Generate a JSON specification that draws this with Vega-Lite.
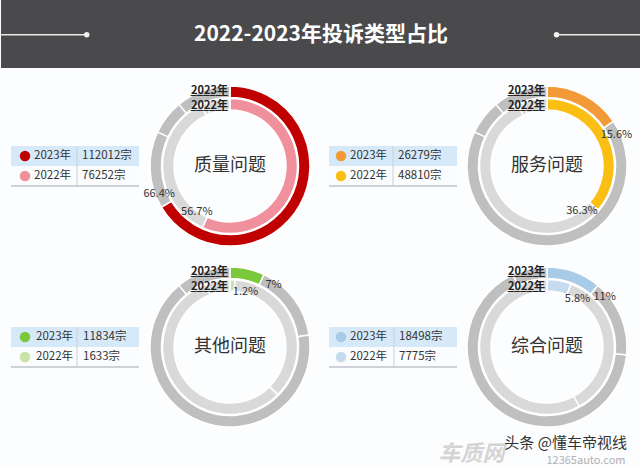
{
  "$schema": "https://vega.github.io/schema/vega-lite/v6.json",
  "padding": 0,
  "background": "#fcfdfe",
  "spacing": 0,
  "config": {
    "view": {"stroke": null},
    "text": {"font": "Noto Sans CJK SC"},
    "concat": {"spacing": 0}
  },
  "datasets": {
    "rings": [
      {"panel": "质量问题", "cat": "质量问题", "rank": 1, "p2023": 66.4, "p2022": 56.7},
      {"panel": "质量问题", "cat": "服务问题", "rank": 2, "p2023": 15.6, "p2022": 36.3},
      {"panel": "质量问题", "cat": "其他问题", "rank": 3, "p2023": 7, "p2022": 1.2},
      {"panel": "质量问题", "cat": "综合问题", "rank": 4, "p2023": 11, "p2022": 5.8},
      {"panel": "服务问题", "cat": "服务问题", "rank": 1, "p2023": 15.6, "p2022": 36.3},
      {"panel": "服务问题", "cat": "质量问题", "rank": 2, "p2023": 66.4, "p2022": 56.7},
      {"panel": "服务问题", "cat": "其他问题", "rank": 3, "p2023": 7, "p2022": 1.2},
      {"panel": "服务问题", "cat": "综合问题", "rank": 4, "p2023": 11, "p2022": 5.8},
      {"panel": "其他问题", "cat": "其他问题", "rank": 1, "p2023": 7, "p2022": 1.2},
      {"panel": "其他问题", "cat": "服务问题", "rank": 2, "p2023": 15.6, "p2022": 36.3},
      {"panel": "其他问题", "cat": "质量问题", "rank": 3, "p2023": 66.4, "p2022": 56.7},
      {"panel": "其他问题", "cat": "综合问题", "rank": 4, "p2023": 11, "p2022": 5.8},
      {"panel": "综合问题", "cat": "综合问题", "rank": 1, "p2023": 11, "p2022": 5.8},
      {"panel": "综合问题", "cat": "服务问题", "rank": 2, "p2023": 15.6, "p2022": 36.3},
      {"panel": "综合问题", "cat": "质量问题", "rank": 3, "p2023": 66.4, "p2022": 56.7},
      {"panel": "综合问题", "cat": "其他问题", "rank": 4, "p2023": 7, "p2022": 1.2}
    ],
    "stats": [
      {"cat": "质量问题", "year": "2023年", "count": 112012, "countText": "112012宗", "pct": 66.4, "pctText": "66.4%"},
      {"cat": "质量问题", "year": "2022年", "count": 76252, "countText": "76252宗", "pct": 56.7, "pctText": "56.7%"},
      {"cat": "服务问题", "year": "2023年", "count": 26279, "countText": "26279宗", "pct": 15.6, "pctText": "15.6%"},
      {"cat": "服务问题", "year": "2022年", "count": 48810, "countText": "48810宗", "pct": 36.3, "pctText": "36.3%"},
      {"cat": "其他问题", "year": "2023年", "count": 11834, "countText": "11834宗", "pct": 7, "pctText": "7%"},
      {"cat": "其他问题", "year": "2022年", "count": 1633, "countText": "1633宗", "pct": 1.2, "pctText": "1.2%"},
      {"cat": "综合问题", "year": "2023年", "count": 18498, "countText": "18498宗", "pct": 11, "pctText": "11%"},
      {"cat": "综合问题", "year": "2022年", "count": 7775, "countText": "7775宗", "pct": 5.8, "pctText": "5.8%"}
    ]
  },
  "vconcat": [
    {
      "width": 640,
      "height": 68,
      "view": {"fill": "#4a4a4c", "stroke": null},
      "data": {"values": [{"title": "2022-2023年投诉类型占比"}]},
      "layer": [
        {"mark": {"type": "rule", "color": "#e8e8e8", "strokeWidth": 1.5},
         "encoding": {"x": {"datum": 0, "type": "quantitative", "scale": {"domain": [0, 1], "nice": false}, "axis": null}, "x2": {"datum": 0.134},
                      "y": {"datum": 0.51, "type": "quantitative", "scale": {"domain": [0, 1], "reverse": true, "nice": false}, "axis": null}}},
        {"mark": {"type": "rule", "color": "#e8e8e8", "strokeWidth": 1.5},
         "encoding": {"x": {"datum": 0.868, "type": "quantitative"}, "x2": {"datum": 1}, "y": {"datum": 0.51, "type": "quantitative"}}},
        {"mark": {"type": "point", "filled": true, "size": 30, "color": "#f0f0f0", "opacity": 1},
         "encoding": {"x": {"datum": 0.134, "type": "quantitative"}, "y": {"datum": 0.51, "type": "quantitative"}}},
        {"mark": {"type": "point", "filled": true, "size": 30, "color": "#f0f0f0", "opacity": 1},
         "encoding": {"x": {"datum": 0.868, "type": "quantitative"}, "y": {"datum": 0.51, "type": "quantitative"}}},
        {"mark": {"type": "text", "fontSize": 21, "fontWeight": "bold", "color": "#ffffff", "baseline": "middle"},
         "encoding": {"x": {"datum": 0.5, "type": "quantitative"}, "y": {"datum": 0.51, "type": "quantitative"}, "text": {"field": "title"}}}
      ]
    },
    {
      "hconcat": [
        {
          "width": 140, "height": 40,
          "data": {"name": "stats"},
          "transform": [{"filter": "datum.cat === '质量问题'"}],
          "encoding": {"y": {"field": "year", "type": "nominal", "sort": ["2023年", "2022年"], "scale": {"paddingInner": 0, "paddingOuter": 0}, "axis": null}},
          "layer": [
            {"mark": {"type": "rect"},
             "encoding": {"x": {"datum": 10, "type": "quantitative", "scale": {"domain": [0, 140], "nice": false, "zero": false}, "axis": null}, "x2": {"datum": 138},
                          "color": {"condition": {"test": "datum.year === '2023年'", "value": "#d6e9f8"}, "value": "#fbfcfd"}}},
            {"transform": [{"filter": "datum.year === '2023年'"}], "mark": {"type": "rule", "color": "#c9cfd5", "strokeWidth": 1},
             "encoding": {"x": {"datum": 76, "type": "quantitative"}, "y": {"value": 0}, "y2": {"value": "height"}}},
            {"transform": [{"filter": "datum.year === '2023年'"}], "mark": {"type": "rule", "color": "#bfc5cb", "strokeWidth": 1.5},
             "encoding": {"x": {"datum": 10, "type": "quantitative"}, "x2": {"datum": 138}, "y": {"value": "height"}}},
            {"mark": {"type": "point", "filled": true, "size": 110, "opacity": 1},
             "encoding": {"x": {"datum": 24, "type": "quantitative"}, "color": {"condition": {"test": "datum.year === '2023年'", "value": "#c00000"}, "value": "#ef909c"}}},
            {"mark": {"type": "text", "align": "left", "fontSize": 11.5, "color": "#333333"},
             "encoding": {"x": {"datum": 33, "type": "quantitative"}, "text": {"field": "year"}}},
            {"mark": {"type": "text", "align": "left", "fontSize": 11.5, "color": "#333333"},
             "encoding": {"x": {"datum": 81, "type": "quantitative"}, "text": {"field": "countText"}}}
          ]
        },
        {
          "width": 178, "height": 196,
          "layer": [
            {"data": {"name": "rings"}, "transform": [{"filter": "datum.panel === '质量问题'"}],
             "mark": {"type": "arc", "innerRadius": 68.5, "outerRadius": 80, "stroke": "#ffffff", "strokeWidth": 1.5},
             "encoding": {"theta": {"field": "p2023", "type": "quantitative", "stack": true, "scale": {"domain": [0, 100]}},
                          "order": {"field": "rank", "type": "quantitative"}, "detail": {"field": "cat"},
                          "color": {"condition": {"test": "datum.cat === datum.panel", "value": "#c00000"}, "value": "#bfbfbf"}}},
            {"data": {"name": "rings"}, "transform": [{"filter": "datum.panel === '质量问题'"}],
             "mark": {"type": "arc", "innerRadius": 56, "outerRadius": 67.5, "stroke": "#ffffff", "strokeWidth": 1.5},
             "encoding": {"theta": {"field": "p2022", "type": "quantitative", "stack": true, "scale": {"domain": [0, 100]}},
                          "order": {"field": "rank", "type": "quantitative"}, "detail": {"field": "cat"},
                          "color": {"condition": {"test": "datum.cat === datum.panel", "value": "#ef909c"}, "value": "#d9d9d9"}}},
            {"data": {"name": "stats"}, "transform": [{"filter": "datum.cat === '质量问题' && datum.year === '2023年'"}],
             "mark": {"type": "text", "fontSize": 18, "color": "#333333"},
             "encoding": {"text": {"field": "cat"}}},
            {"data": {"name": "stats"}, "transform": [{"filter": "datum.cat === '质量问题' && datum.year === '2023年'"}],
             "mark": {"type": "text", "align": "right", "baseline": "middle", "fontSize": 11, "fontWeight": "bold", "color": "#222222", "dx": -2},
             "encoding": {"theta": {"datum": 0, "type": "quantitative"}, "radius": {"value": 75}, "text": {"field": "year"}}},
            {"data": {"name": "stats"}, "transform": [{"filter": "datum.cat === '质量问题' && datum.year === '2023年'"}],
             "mark": {"type": "text", "align": "right", "baseline": "middle", "fontSize": 11, "fontWeight": "bold", "color": "#222222", "dx": -2},
             "encoding": {"theta": {"datum": 0, "type": "quantitative"}, "radius": {"value": 75}, "text": {"value": "______"}}},
            {"data": {"name": "stats"}, "transform": [{"filter": "datum.cat === '质量问题' && datum.year === '2022年'"}],
             "mark": {"type": "text", "align": "right", "baseline": "middle", "fontSize": 11, "fontWeight": "bold", "color": "#222222", "dx": -2},
             "encoding": {"theta": {"datum": 0, "type": "quantitative"}, "radius": {"value": 60}, "text": {"field": "year"}}},
            {"data": {"name": "stats"}, "transform": [{"filter": "datum.cat === '质量问题' && datum.year === '2022年'"}],
             "mark": {"type": "text", "align": "right", "baseline": "middle", "fontSize": 11, "fontWeight": "bold", "color": "#222222", "dx": -2},
             "encoding": {"theta": {"datum": 0, "type": "quantitative"}, "radius": {"value": 60}, "text": {"value": "______"}}},
            {"data": {"name": "stats"}, "transform": [{"filter": "datum.cat === '质量问题' && datum.year === '2023年'"}],
             "mark": {"type": "text", "fontSize": 11, "color": "#333333", "thetaOffset": 0.17},
             "encoding": {"theta": {"field": "pct", "type": "quantitative"}, "radius": {"value": 76}, "text": {"field": "pctText"}}},
            {"data": {"name": "stats"}, "transform": [{"filter": "datum.cat === '质量问题' && datum.year === '2022年'"}],
             "mark": {"type": "text", "fontSize": 11, "color": "#333333", "thetaOffset": 0.2},
             "encoding": {"theta": {"field": "pct", "type": "quantitative"}, "radius": {"value": 57}, "text": {"field": "pctText"}}}
          ]
        },
        {
          "width": 140, "height": 40,
          "data": {"name": "stats"},
          "transform": [{"filter": "datum.cat === '服务问题'"}],
          "encoding": {"y": {"field": "year", "type": "nominal", "sort": ["2023年", "2022年"], "scale": {"paddingInner": 0, "paddingOuter": 0}, "axis": null}},
          "layer": [
            {"mark": {"type": "rect"},
             "encoding": {"x": {"datum": 10, "type": "quantitative", "scale": {"domain": [0, 140], "nice": false, "zero": false}, "axis": null}, "x2": {"datum": 138},
                          "color": {"condition": {"test": "datum.year === '2023年'", "value": "#d6e9f8"}, "value": "#fbfcfd"}}},
            {"transform": [{"filter": "datum.year === '2023年'"}], "mark": {"type": "rule", "color": "#c9cfd5", "strokeWidth": 1},
             "encoding": {"x": {"datum": 74, "type": "quantitative"}, "y": {"value": 0}, "y2": {"value": "height"}}},
            {"transform": [{"filter": "datum.year === '2023年'"}], "mark": {"type": "rule", "color": "#bfc5cb", "strokeWidth": 1.5},
             "encoding": {"x": {"datum": 10, "type": "quantitative"}, "x2": {"datum": 138}, "y": {"value": "height"}}},
            {"mark": {"type": "point", "filled": true, "size": 110, "opacity": 1},
             "encoding": {"x": {"datum": 22, "type": "quantitative"}, "color": {"condition": {"test": "datum.year === '2023年'", "value": "#f39a38"}, "value": "#fbbf14"}}},
            {"mark": {"type": "text", "align": "left", "fontSize": 11.5, "color": "#333333"},
             "encoding": {"x": {"datum": 31, "type": "quantitative"}, "text": {"field": "year"}}},
            {"mark": {"type": "text", "align": "left", "fontSize": 11.5, "color": "#333333"},
             "encoding": {"x": {"datum": 79, "type": "quantitative"}, "text": {"field": "countText"}}}
          ]
        },
        {
          "width": 176, "height": 196,
          "layer": [
            {"data": {"name": "rings"}, "transform": [{"filter": "datum.panel === '服务问题'"}],
             "mark": {"type": "arc", "innerRadius": 68.5, "outerRadius": 80, "stroke": "#ffffff", "strokeWidth": 1.5},
             "encoding": {"theta": {"field": "p2023", "type": "quantitative", "stack": true, "scale": {"domain": [0, 100]}},
                          "order": {"field": "rank", "type": "quantitative"}, "detail": {"field": "cat"},
                          "color": {"condition": {"test": "datum.cat === datum.panel", "value": "#f39a38"}, "value": "#bfbfbf"}}},
            {"data": {"name": "rings"}, "transform": [{"filter": "datum.panel === '服务问题'"}],
             "mark": {"type": "arc", "innerRadius": 56, "outerRadius": 67.5, "stroke": "#ffffff", "strokeWidth": 1.5},
             "encoding": {"theta": {"field": "p2022", "type": "quantitative", "stack": true, "scale": {"domain": [0, 100]}},
                          "order": {"field": "rank", "type": "quantitative"}, "detail": {"field": "cat"},
                          "color": {"condition": {"test": "datum.cat === datum.panel", "value": "#fbbf14"}, "value": "#d9d9d9"}}},
            {"data": {"name": "stats"}, "transform": [{"filter": "datum.cat === '服务问题' && datum.year === '2023年'"}],
             "mark": {"type": "text", "fontSize": 18, "color": "#333333"},
             "encoding": {"text": {"field": "cat"}}},
            {"data": {"name": "stats"}, "transform": [{"filter": "datum.cat === '服务问题' && datum.year === '2023年'"}],
             "mark": {"type": "text", "align": "right", "baseline": "middle", "fontSize": 11, "fontWeight": "bold", "color": "#222222", "dx": -2},
             "encoding": {"theta": {"datum": 0, "type": "quantitative"}, "radius": {"value": 75}, "text": {"field": "year"}}},
            {"data": {"name": "stats"}, "transform": [{"filter": "datum.cat === '服务问题' && datum.year === '2023年'"}],
             "mark": {"type": "text", "align": "right", "baseline": "middle", "fontSize": 11, "fontWeight": "bold", "color": "#222222", "dx": -2},
             "encoding": {"theta": {"datum": 0, "type": "quantitative"}, "radius": {"value": 75}, "text": {"value": "______"}}},
            {"data": {"name": "stats"}, "transform": [{"filter": "datum.cat === '服务问题' && datum.year === '2022年'"}],
             "mark": {"type": "text", "align": "right", "baseline": "middle", "fontSize": 11, "fontWeight": "bold", "color": "#222222", "dx": -2},
             "encoding": {"theta": {"datum": 0, "type": "quantitative"}, "radius": {"value": 60}, "text": {"field": "year"}}},
            {"data": {"name": "stats"}, "transform": [{"filter": "datum.cat === '服务问题' && datum.year === '2022年'"}],
             "mark": {"type": "text", "align": "right", "baseline": "middle", "fontSize": 11, "fontWeight": "bold", "color": "#222222", "dx": -2},
             "encoding": {"theta": {"datum": 0, "type": "quantitative"}, "radius": {"value": 60}, "text": {"value": "______"}}},
            {"data": {"name": "stats"}, "transform": [{"filter": "datum.cat === '服务问题' && datum.year === '2023年'"}],
             "mark": {"type": "text", "fontSize": 11, "color": "#333333", "thetaOffset": 0.17},
             "encoding": {"theta": {"field": "pct", "type": "quantitative"}, "radius": {"value": 76}, "text": {"field": "pctText"}}},
            {"data": {"name": "stats"}, "transform": [{"filter": "datum.cat === '服务问题' && datum.year === '2022年'"}],
             "mark": {"type": "text", "fontSize": 11, "color": "#333333", "thetaOffset": 0.2},
             "encoding": {"theta": {"field": "pct", "type": "quantitative"}, "radius": {"value": 57}, "text": {"field": "pctText"}}}
          ]
        }
      ],
      "spacing": 0,
      "bounds": "flush",
      "center": true
    },
    {
      "hconcat": [
        {
          "width": 140, "height": 40,
          "data": {"name": "stats"},
          "transform": [{"filter": "datum.cat === '其他问题'"}],
          "encoding": {"y": {"field": "year", "type": "nominal", "sort": ["2023年", "2022年"], "scale": {"paddingInner": 0, "paddingOuter": 0}, "axis": null}},
          "layer": [
            {"mark": {"type": "rect"},
             "encoding": {"x": {"datum": 10, "type": "quantitative", "scale": {"domain": [0, 140], "nice": false, "zero": false}, "axis": null}, "x2": {"datum": 138},
                          "color": {"condition": {"test": "datum.year === '2023年'", "value": "#d6e9f8"}, "value": "#fbfcfd"}}},
            {"transform": [{"filter": "datum.year === '2023年'"}], "mark": {"type": "rule", "color": "#c9cfd5", "strokeWidth": 1},
             "encoding": {"x": {"datum": 76, "type": "quantitative"}, "y": {"value": 0}, "y2": {"value": "height"}}},
            {"transform": [{"filter": "datum.year === '2023年'"}], "mark": {"type": "rule", "color": "#bfc5cb", "strokeWidth": 1.5},
             "encoding": {"x": {"datum": 10, "type": "quantitative"}, "x2": {"datum": 138}, "y": {"value": "height"}}},
            {"mark": {"type": "point", "filled": true, "size": 110, "opacity": 1},
             "encoding": {"x": {"datum": 24, "type": "quantitative"}, "color": {"condition": {"test": "datum.year === '2023年'", "value": "#7cc83c"}, "value": "#c6e4a8"}}},
            {"mark": {"type": "text", "align": "left", "fontSize": 11.5, "color": "#333333"},
             "encoding": {"x": {"datum": 35, "type": "quantitative"}, "text": {"field": "year"}}},
            {"mark": {"type": "text", "align": "left", "fontSize": 11.5, "color": "#333333"},
             "encoding": {"x": {"datum": 82, "type": "quantitative"}, "text": {"field": "countText"}}}
          ]
        },
        {
          "width": 178, "height": 162,
          "layer": [
            {"data": {"name": "rings"}, "transform": [{"filter": "datum.panel === '其他问题'"}],
             "mark": {"type": "arc", "innerRadius": 68.5, "outerRadius": 80, "stroke": "#ffffff", "strokeWidth": 1.5},
             "encoding": {"theta": {"field": "p2023", "type": "quantitative", "stack": true, "scale": {"domain": [0, 100]}},
                          "order": {"field": "rank", "type": "quantitative"}, "detail": {"field": "cat"},
                          "color": {"condition": {"test": "datum.cat === datum.panel", "value": "#7cc83c"}, "value": "#bfbfbf"}}},
            {"data": {"name": "rings"}, "transform": [{"filter": "datum.panel === '其他问题'"}],
             "mark": {"type": "arc", "innerRadius": 56, "outerRadius": 67.5, "stroke": "#ffffff", "strokeWidth": 1.5},
             "encoding": {"theta": {"field": "p2022", "type": "quantitative", "stack": true, "scale": {"domain": [0, 100]}},
                          "order": {"field": "rank", "type": "quantitative"}, "detail": {"field": "cat"},
                          "color": {"condition": {"test": "datum.cat === datum.panel", "value": "#c6e4a8"}, "value": "#d9d9d9"}}},
            {"data": {"name": "stats"}, "transform": [{"filter": "datum.cat === '其他问题' && datum.year === '2023年'"}],
             "mark": {"type": "text", "fontSize": 18, "color": "#333333"},
             "encoding": {"text": {"field": "cat"}}},
            {"data": {"name": "stats"}, "transform": [{"filter": "datum.cat === '其他问题' && datum.year === '2023年'"}],
             "mark": {"type": "text", "align": "right", "baseline": "middle", "fontSize": 11, "fontWeight": "bold", "color": "#222222", "dx": -2},
             "encoding": {"theta": {"datum": 0, "type": "quantitative"}, "radius": {"value": 75}, "text": {"field": "year"}}},
            {"data": {"name": "stats"}, "transform": [{"filter": "datum.cat === '其他问题' && datum.year === '2023年'"}],
             "mark": {"type": "text", "align": "right", "baseline": "middle", "fontSize": 11, "fontWeight": "bold", "color": "#222222", "dx": -2},
             "encoding": {"theta": {"datum": 0, "type": "quantitative"}, "radius": {"value": 75}, "text": {"value": "______"}}},
            {"data": {"name": "stats"}, "transform": [{"filter": "datum.cat === '其他问题' && datum.year === '2022年'"}],
             "mark": {"type": "text", "align": "right", "baseline": "middle", "fontSize": 11, "fontWeight": "bold", "color": "#222222", "dx": -2},
             "encoding": {"theta": {"datum": 0, "type": "quantitative"}, "radius": {"value": 60}, "text": {"field": "year"}}},
            {"data": {"name": "stats"}, "transform": [{"filter": "datum.cat === '其他问题' && datum.year === '2022年'"}],
             "mark": {"type": "text", "align": "right", "baseline": "middle", "fontSize": 11, "fontWeight": "bold", "color": "#222222", "dx": -2},
             "encoding": {"theta": {"datum": 0, "type": "quantitative"}, "radius": {"value": 60}, "text": {"value": "______"}}},
            {"data": {"name": "stats"}, "transform": [{"filter": "datum.cat === '其他问题' && datum.year === '2023年'"}],
             "mark": {"type": "text", "fontSize": 11, "color": "#333333", "thetaOffset": 0.17},
             "encoding": {"theta": {"field": "pct", "type": "quantitative"}, "radius": {"value": 76}, "text": {"field": "pctText"}}},
            {"data": {"name": "stats"}, "transform": [{"filter": "datum.cat === '其他问题' && datum.year === '2022年'"}],
             "mark": {"type": "text", "fontSize": 11, "color": "#333333", "thetaOffset": 0.2},
             "encoding": {"theta": {"field": "pct", "type": "quantitative"}, "radius": {"value": 57}, "text": {"field": "pctText"}}}
          ]
        },
        {
          "width": 140, "height": 40,
          "data": {"name": "stats"},
          "transform": [{"filter": "datum.cat === '综合问题'"}],
          "encoding": {"y": {"field": "year", "type": "nominal", "sort": ["2023年", "2022年"], "scale": {"paddingInner": 0, "paddingOuter": 0}, "axis": null}},
          "layer": [
            {"mark": {"type": "rect"},
             "encoding": {"x": {"datum": 10, "type": "quantitative", "scale": {"domain": [0, 140], "nice": false, "zero": false}, "axis": null}, "x2": {"datum": 138},
                          "color": {"condition": {"test": "datum.year === '2023年'", "value": "#d6e9f8"}, "value": "#fbfcfd"}}},
            {"transform": [{"filter": "datum.year === '2023年'"}], "mark": {"type": "rule", "color": "#c9cfd5", "strokeWidth": 1},
             "encoding": {"x": {"datum": 75, "type": "quantitative"}, "y": {"value": 0}, "y2": {"value": "height"}}},
            {"transform": [{"filter": "datum.year === '2023年'"}], "mark": {"type": "rule", "color": "#bfc5cb", "strokeWidth": 1.5},
             "encoding": {"x": {"datum": 10, "type": "quantitative"}, "x2": {"datum": 138}, "y": {"value": "height"}}},
            {"mark": {"type": "point", "filled": true, "size": 110, "opacity": 1},
             "encoding": {"x": {"datum": 22, "type": "quantitative"}, "color": {"condition": {"test": "datum.year === '2023年'", "value": "#a8cbe8"}, "value": "#c6dbee"}}},
            {"mark": {"type": "text", "align": "left", "fontSize": 11.5, "color": "#333333"},
             "encoding": {"x": {"datum": 31, "type": "quantitative"}, "text": {"field": "year"}}},
            {"mark": {"type": "text", "align": "left", "fontSize": 11.5, "color": "#333333"},
             "encoding": {"x": {"datum": 80, "type": "quantitative"}, "text": {"field": "countText"}}}
          ]
        },
        {
          "width": 176, "height": 162,
          "layer": [
            {"data": {"name": "rings"}, "transform": [{"filter": "datum.panel === '综合问题'"}],
             "mark": {"type": "arc", "innerRadius": 68.5, "outerRadius": 80, "stroke": "#ffffff", "strokeWidth": 1.5},
             "encoding": {"theta": {"field": "p2023", "type": "quantitative", "stack": true, "scale": {"domain": [0, 100]}},
                          "order": {"field": "rank", "type": "quantitative"}, "detail": {"field": "cat"},
                          "color": {"condition": {"test": "datum.cat === datum.panel", "value": "#a8cbe8"}, "value": "#bfbfbf"}}},
            {"data": {"name": "rings"}, "transform": [{"filter": "datum.panel === '综合问题'"}],
             "mark": {"type": "arc", "innerRadius": 56, "outerRadius": 67.5, "stroke": "#ffffff", "strokeWidth": 1.5},
             "encoding": {"theta": {"field": "p2022", "type": "quantitative", "stack": true, "scale": {"domain": [0, 100]}},
                          "order": {"field": "rank", "type": "quantitative"}, "detail": {"field": "cat"},
                          "color": {"condition": {"test": "datum.cat === datum.panel", "value": "#c6dbee"}, "value": "#d9d9d9"}}},
            {"data": {"name": "stats"}, "transform": [{"filter": "datum.cat === '综合问题' && datum.year === '2023年'"}],
             "mark": {"type": "text", "fontSize": 18, "color": "#333333"},
             "encoding": {"text": {"field": "cat"}}},
            {"data": {"name": "stats"}, "transform": [{"filter": "datum.cat === '综合问题' && datum.year === '2023年'"}],
             "mark": {"type": "text", "align": "right", "baseline": "middle", "fontSize": 11, "fontWeight": "bold", "color": "#222222", "dx": -2},
             "encoding": {"theta": {"datum": 0, "type": "quantitative"}, "radius": {"value": 75}, "text": {"field": "year"}}},
            {"data": {"name": "stats"}, "transform": [{"filter": "datum.cat === '综合问题' && datum.year === '2023年'"}],
             "mark": {"type": "text", "align": "right", "baseline": "middle", "fontSize": 11, "fontWeight": "bold", "color": "#222222", "dx": -2},
             "encoding": {"theta": {"datum": 0, "type": "quantitative"}, "radius": {"value": 75}, "text": {"value": "______"}}},
            {"data": {"name": "stats"}, "transform": [{"filter": "datum.cat === '综合问题' && datum.year === '2022年'"}],
             "mark": {"type": "text", "align": "right", "baseline": "middle", "fontSize": 11, "fontWeight": "bold", "color": "#222222", "dx": -2},
             "encoding": {"theta": {"datum": 0, "type": "quantitative"}, "radius": {"value": 60}, "text": {"field": "year"}}},
            {"data": {"name": "stats"}, "transform": [{"filter": "datum.cat === '综合问题' && datum.year === '2022年'"}],
             "mark": {"type": "text", "align": "right", "baseline": "middle", "fontSize": 11, "fontWeight": "bold", "color": "#222222", "dx": -2},
             "encoding": {"theta": {"datum": 0, "type": "quantitative"}, "radius": {"value": 60}, "text": {"value": "______"}}},
            {"data": {"name": "stats"}, "transform": [{"filter": "datum.cat === '综合问题' && datum.year === '2023年'"}],
             "mark": {"type": "text", "fontSize": 11, "color": "#333333", "thetaOffset": 0.17},
             "encoding": {"theta": {"field": "pct", "type": "quantitative"}, "radius": {"value": 76}, "text": {"field": "pctText"}}},
            {"data": {"name": "stats"}, "transform": [{"filter": "datum.cat === '综合问题' && datum.year === '2022年'"}],
             "mark": {"type": "text", "fontSize": 11, "color": "#333333", "thetaOffset": 0.2},
             "encoding": {"theta": {"field": "pct", "type": "quantitative"}, "radius": {"value": 57}, "text": {"field": "pctText"}}}
          ]
        }
      ],
      "spacing": 0,
      "bounds": "flush",
      "center": true
    },
    {
      "width": 640,
      "height": 42,
      "layer": [
        {"data": {"values": [{"t": "车质网"}]},
         "mark": {"type": "text", "fontSize": 22, "fontWeight": "bold", "fontStyle": "italic", "color": "#d4d4d4", "baseline": "middle"},
         "encoding": {"x": {"datum": 0.735, "type": "quantitative", "scale": {"domain": [0, 1], "nice": false}, "axis": null},
                      "y": {"datum": 0.58, "type": "quantitative", "scale": {"domain": [0, 1], "reverse": true, "nice": false}, "axis": null},
                      "text": {"field": "t"}}},
        {"data": {"values": [{"t": "12365auto.com"}]},
         "mark": {"type": "text", "fontSize": 11, "color": "#b0b0b0", "baseline": "middle"},
         "encoding": {"x": {"datum": 0.914, "type": "quantitative"}, "y": {"datum": 0.73, "type": "quantitative"}, "text": {"field": "t"}}},
        {"data": {"values": [{"t": "头条 @懂车帝视线"}]},
         "mark": {"type": "text", "fontSize": 15, "color": "#333333", "align": "right", "baseline": "middle"},
         "encoding": {"x": {"datum": 0.978, "type": "quantitative"}, "y": {"datum": 0.3, "type": "quantitative"}, "text": {"field": "t"}}}
      ]
    }
  ]
}
